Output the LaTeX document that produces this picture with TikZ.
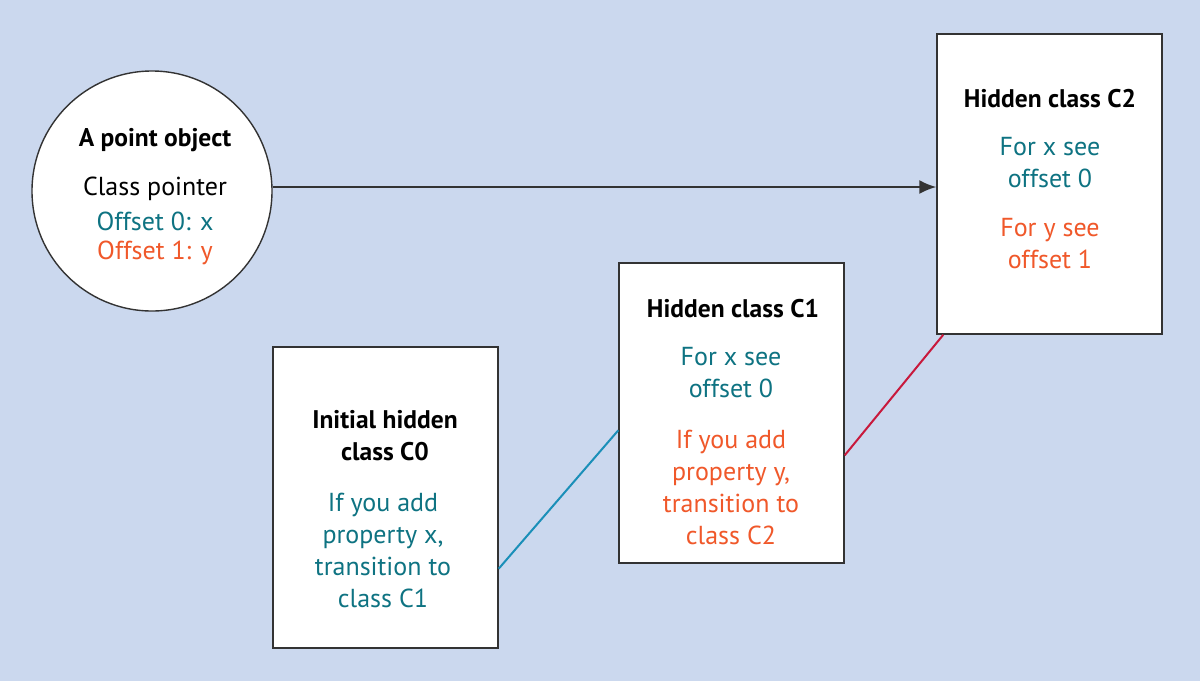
\documentclass[tikz,border=0pt]{standalone}
\usepackage{fontspec}
\setmainfont{PT Sans}
\usetikzlibrary{arrows.meta,calc}
\definecolor{bgc}{HTML}{CBD8EE}
\definecolor{teal}{HTML}{0E7382}
\definecolor{orng}{HTML}{F0582A}
\definecolor{bluel}{HTML}{1A8FB8}
\definecolor{redl}{HTML}{C8193C}
\definecolor{edge}{HTML}{333333}
\begin{document}
\begin{tikzpicture}[x=1pt,y=-1pt,
  box/.style={draw=edge,line width=1.4pt,fill=white},
  txt/.style={align=center,font=\fontsize{26}{32}\selectfont,inner sep=0pt},
  ttl/.style={txt,font=\fontsize{25.5}{32}\selectfont\bfseries}]
\useasboundingbox[fill=bgc] (0,0) rectangle (1200,681);
% shapes
\node[box,circle,minimum size=240pt,inner sep=0pt] (p) at (152,191) {};
\node[box,minimum width=225pt,minimum height=300pt,inner sep=0pt] (c2) at (1049.5,184) {};
\node[box,minimum width=225pt,minimum height=300pt,inner sep=0pt] (c1) at (731.5,413) {};
\node[box,minimum width=225pt,minimum height=301pt,inner sep=0pt] (c0) at (385.5,497.5) {};
% texts circle
\node[ttl] (pt) at (155,140) {A point object};
\node[txt] (pa) at (155,189) {Class pointer};
\node[txt,text=teal] (pb) at (155,221) {Offset 0: x};
\node[txt,text=orng] (pc) at (155,253) {Offset 1: y};
% C2
\node[ttl] (c2t) at (1050,99) {Hidden class C2};
\node[txt,text=teal] (c2a) at (1050,163) {For x see\\offset 0};
\node[txt,text=orng] (c2b) at (1050,244) {For y see\\offset 1};
% C1
\node[ttl] (c1t) at (733,309) {Hidden class C1};
\node[txt,text=teal] (c1a) at (731,373) {For x see\\offset 0};
\node[txt,text=orng] (c1b) at (731,487) {If you add\\property y,\\transition to\\class C2};
% C0
\node[ttl] (c0t) at (385,436) {Initial hidden\\class C0};
\node[txt,text=teal] (c0a) at (383,550) {If you add\\property x,\\transition to\\class C1};
% connectors
\coordinate (a0) at ($(p.east)+(0,-4)$);
\draw[edge,line width=2pt,-{Latex[length=17pt,width=14pt]}] (a0) -- (a0 -| c2.west);
\coordinate (b0) at ($(c0.south east)+(0,-80)$);
\coordinate (b1) at ($(c1.north west)+(0,168)$);
\draw[bluel,line width=2pt] (b0) -- (b1);
\coordinate (r1) at ($(c1.north east)+(0,193)$);
\coordinate (r2) at ($(c2.south west)+(7,0)$);
\draw[redl,line width=2pt] (r1) -- (r2);
\end{tikzpicture}
\end{document}
